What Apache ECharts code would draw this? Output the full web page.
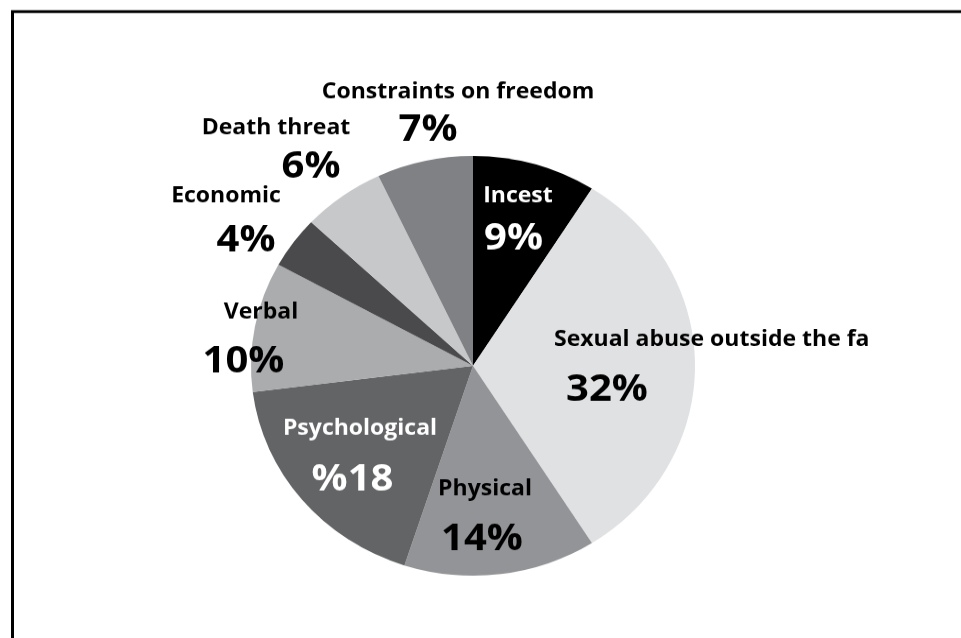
<!DOCTYPE html>
<html><head><meta charset="utf-8">
<script src="https://cdn.jsdelivr.net/npm/echarts@6/dist/echarts.min.js"></script>
<style>
html,body{margin:0;padding:0;background:#fff;overflow:hidden;}
#wrap{width:961px;height:638px;overflow:hidden;position:relative;}
#chart{width:961px;height:675px;transform:scaleY(0.9452);transform-origin:0 0;}
</style></head>
<body><div id="wrap"><div id="chart"></div></div>
<script>
// ---- data ----
const categories = ['Incest', 'Sexual abuse outside the family', 'Physical', 'Psychological', 'Verbal', 'Economic', 'Death threat', 'Constraints on freedom'];
const values = [9, 32, 14, 18, 10, 4, 6, 7];
const percentLabels = ['9%', '32%', '14%', '%18', '10%', '4%', '6%', '7%'];

// ---- styles / layout ----
const sliceColors = ['#000000', '#e0e1e3', '#939497', '#636466', '#abacae', '#4a4a4c', '#c7c8ca', '#808184'];
const labelColors = ['#ffffff', '#000000', '#000000', '#ffffff', '#000000', '#000000', '#000000', '#000000'];
const SY = 0.9452; // vertical squash of the reference picture
const namePos = [[518, 196], [554, 339.5], [485, 489], [360, 429], [261, 312], [226, 196], [276, 128], [458, 92]];
const pctPos = [[513.5, 239], [607, 390], [482, 539], [352.5, 480], [243.5, 362], [246, 241], [311, 167], [428, 130]];
const FONT = 'Open Sans';

const chart = echarts.init(document.getElementById('chart'), null, {renderer: 'canvas'});

const nameData = categories.map((c, i) => ({
  name: c, value: values[i],
  itemStyle: {color: sliceColors[i]},
  label: Object.assign({color: labelColors[i]}, i === 1 ? {width: 330, overflow: 'truncate', ellipsis: ''} : {})
}));
const pctData = categories.map((c, i) => ({
  name: c, value: values[i],
  label: {color: labelColors[i], formatter: percentLabels[i]}
}));

const common = {
  type: 'pie',
  center: [473, 387],
  radius: [0, 222],
  startAngle: 90,
  clockwise: true,
  avoidLabelOverlap: false,
  animation: false,
  labelLine: {show: false},
  emphasis: {disabled: true},
  silent: true
};

chart.setOption({
  backgroundColor: '#ffffff',
  graphic: [{
    type: 'polyline',
    shape: {points: [[12.5, 1000], [12.5, 12.2], [2000, 12.2]]},
    style: {stroke: '#000', lineWidth: 3, fill: null},
    silent: true
  }],
  series: [
    Object.assign({}, common, {
      name: 'names',
      data: nameData,
      itemStyle: {borderWidth: 0},
      label: {show: true, position: 'inside', formatter: '{b}', fontFamily: FONT, fontWeight: 'bold', fontSize: 23},
      labelLayout: function (p) {
        const q = namePos[p.dataIndex];
        return {x: q[0], y: q[1] / SY, align: p.dataIndex === 1 ? 'left' : 'center', verticalAlign: 'middle'};
      }
    }),
    Object.assign({}, common, {
      name: 'percents',
      data: pctData,
      itemStyle: {color: 'rgba(0,0,0,0)', borderWidth: 0},
      label: {show: true, position: 'inside', fontFamily: FONT, fontWeight: 'bold', fontSize: 40},
      labelLayout: function (p) {
        const q = pctPos[p.dataIndex];
        return {x: q[0], y: q[1] / SY, align: 'center', verticalAlign: 'middle'};
      }
    })
  ]
});
</script>
</body></html>
